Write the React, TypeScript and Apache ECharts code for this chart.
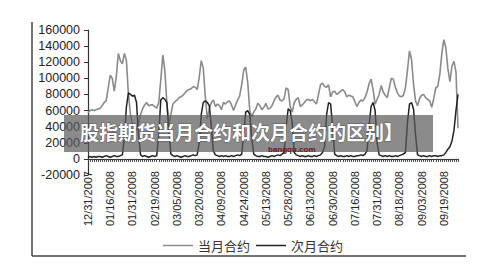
import React, { useEffect, useRef } from "react";
import * as echarts from "echarts";

const tickLabels = [
  "12/31/2007", "01/16/2008", "01/31/2008", "02/19/2008", "03/05/2008", "03/20/2008",
  "04/09/2008", "04/24/2008", "05/13/2008", "05/28/2008", "06/13/2008", "06/30/2008",
  "07/16/2008", "07/31/2008", "08/18/2008", "09/03/2008", "09/19/2008",
];

const seriesNames = ["当月合约", "次月合约"];

const current = [
  57000, 60000, 61000, 60000, 61000, 62000, 63000, 66000, 70000, 72000,
  88000, 104000, 100000, 84000, 102000, 131000, 122000, 118000, 131000, 122000,
  80000, 55000, 42000, 34000, 36000, 45000, 55000, 62000, 67000, 70000,
  66000, 67000, 67000, 65000, 63000, 70000, 98000, 129000, 110000, 70000,
  42000, 55000, 68000, 71000, 73000, 76000, 77000, 79000, 82000, 85000,
  86000, 87000, 90000, 89000, 86000, 101000, 122000, 113000, 78000, 50000,
  62000, 70000, 73000, 65000, 68000, 66000, 61000, 70000, 68000, 71000,
  72000, 67000, 60000, 67000, 73000, 78000, 92000, 110000, 114000, 95000,
  60000, 52000, 58000, 62000, 69000, 66000, 61000, 64000, 69000, 62000,
  63000, 66000, 72000, 77000, 79000, 73000, 72000, 75000, 88000, 86000,
  65000, 58000, 70000, 74000, 76000, 65000, 67000, 70000, 73000, 74000,
  72000, 74000, 71000, 68000, 80000, 92000, 94000, 90000, 89000, 92000,
  77000, 83000, 84000, 80000, 82000, 84000, 86000, 83000, 77000, 79000,
  78000, 77000, 71000, 65000, 70000, 73000, 72000, 76000, 83000, 93000,
  99000, 86000, 68000, 74000, 80000, 91000, 83000, 79000, 76000, 88000,
  100000, 99000, 89000, 82000, 78000, 77000, 79000, 88000, 110000, 134000,
  124000, 93000, 72000, 66000, 75000, 79000, 80000, 76000, 74000, 72000,
  64000, 75000, 88000, 90000, 105000, 131000, 148000, 138000, 112000, 96000,
  115000, 121000, 108000, 38000,
];

const next = [
  2000, 3000, 2000, 3000, 2000, 3000, 3000, 2000, 3000, 4000,
  3000, 2000, 3000, 4000, 3000, 3000, 4000, 5000,
  25000, 65000, 82000, 80000, 78000, 79000, 70000, 30000,
  5000, 3000, 4000, 3000, 2000, 3000, 4000, 3000, 4000,
  30000, 73000, 76000, 74000, 70000, 35000,
  6000, 4000, 3000, 4000, 3000, 2000, 3000, 4000, 3000, 3000, 4000, 5000, 4000, 5000,
  20000, 55000, 70000, 72000, 70000, 66000, 40000, 10000,
  5000, 4000, 3000, 4000, 3000, 4000, 3000, 3000, 4000, 3000, 4000, 5000, 4000, 6000,
  30000, 58000, 60000, 55000, 25000,
  6000, 4000, 3000, 3000, 4000, 3000, 3000, 2000, 3000, 4000, 3000, 4000, 5000, 4000, 6000,
  8000, 40000, 62000, 60000, 45000, 8000,
  5000, 4000, 3000, 4000, 3000, 3000, 4000, 3000, 3000, 4000, 3000, 4000, 5000, 8000,
  15000, 55000, 70000, 68000, 40000, 6000,
  4000, 3000, 4000, 3000, 3000, 4000, 3000, 4000, 3000, 3000, 4000, 4000, 5000, 4000, 6000,
  10000, 40000, 65000, 70000, 60000, 20000,
  5000, 4000, 3000, 4000, 3000, 4000, 3000, 3000, 4000, 3000, 4000, 5000, 6000,
  8000, 45000, 68000, 70000, 62000, 30000,
  5000, 4000, 3000, 4000, 3000, 3000, 4000, 3000, 4000, 4000, 3000, 4000,
  4000, 5000, 8000, 12000, 15000, 22000, 35000, 60000, 80000,
];

const overlayTitle = "股指期货当月合约和次月合约的区别】";
const overlayMark = "bangqu.com";

export default function App() {
  const ref = useRef<HTMLDivElement>(null);
  useEffect(() => {
    const chart = echarts.init(ref.current as HTMLDivElement, null, { renderer: "svg" });
    const cats = current.map((_, i) => String(i));
    const labelFont = "'Liberation Sans', Arial, sans-serif";
    chart.setOption({
      animation: false,
      backgroundColor: "#ffffff",
      grid: { left: 88, right: 42, top: 30, bottom: 93, containLabel: false },
      legend: {
        data: seriesNames,
        left: 158,
        top: 234,
        icon: "rect",
        itemWidth: 30,
        itemHeight: 1.5,
        itemGap: 6,
        textStyle: { fontSize: 13, color: "#333", fontFamily: "'Noto Sans CJK SC', sans-serif" },
      },
      xAxis: [
        {
          type: "category",
          data: cats,
          boundaryGap: false,
          axisLine: { onZero: true, lineStyle: { color: "#333", width: 1.2 } },
          axisTick: { show: true, interval: 0, length: 3, lineStyle: { color: "#444" } },
          axisLabel: { show: false },
          splitLine: { show: false },
        },
        {
          type: "category",
          data: cats,
          boundaryGap: false,
          position: "bottom",
          offset: -6,
          axisLine: { show: false, onZero: false },
          axisTick: { show: false },
          axisLabel: {
            interval: 10,
            rotate: 90,
            margin: 2,
            fontSize: 11,
            color: "#222",
            fontFamily: labelFont,
            formatter: (_v: string, idx: number) => (idx % 11 === 0 ? tickLabels[idx / 11] ?? "" : ""),
          },
          splitLine: { show: false },
        },
      ],
      yAxis: {
        type: "value",
        min: -20000,
        max: 160000,
        interval: 20000,
        axisLine: { show: true, lineStyle: { color: "#333", width: 1.2 } },
        axisTick: { show: true, length: 4, lineStyle: { color: "#333" } },
        axisLabel: {
          fontSize: 12.5,
          color: "#222",
          margin: 8,
          fontFamily: labelFont,
          formatter: (v: number) => String(v),
        },
        splitLine: { show: false },
      },
      series: [
        {
          name: seriesNames[0],
          type: "line",
          xAxisIndex: 0,
          data: current,
          showSymbol: false,
          color: "#8a8a8a",
          lineStyle: { color: "#8a8a8a", width: 1.6 },
        },
        {
          name: seriesNames[1],
          type: "line",
          xAxisIndex: 0,
          data: next,
          showSymbol: false,
          color: "#222222",
          lineStyle: { color: "#222222", width: 1.5 },
        },
      ],
      graphic: [
        { type: "line", z: 90, shape: { x1: 32, y1: 22, x2: 32, y2: 256 }, style: { stroke: "#444", lineWidth: 1.5 } },
        { type: "line", z: 90, shape: { x1: 32, y1: 256, x2: 466, y2: 256 }, style: { stroke: "#444", lineWidth: 1.5 } },
        { type: "rect", z: 100, shape: { x: 64, y: 115, width: 369, height: 37 }, style: { fill: "rgba(90,90,90,0.7)" } },
        {
          type: "text",
          z: 101,
          x: 268,
          y: 149,
          style: { text: overlayMark, fill: "#6e1414", fontSize: 8, fontWeight: "bold", fontFamily: "'Liberation Sans', sans-serif", verticalAlign: "middle" },
        },
        {
          type: "text",
          z: 102,
          x: 80,
          y: 131,
          style: {
            text: overlayTitle,
            fill: "#ffffff",
            fontSize: 19,
            fontWeight: "bold",
            fontFamily: "'Noto Sans CJK SC', sans-serif",
            verticalAlign: "middle",
            stroke: "rgba(40,40,40,0.5)",
            lineWidth: 1,
          },
        },
      ],
    });
    return () => chart.dispose();
  }, []);
  return (
    <div
      ref={ref}
      style={{ position: "absolute", left: 0, top: 0, width: 500, height: 268, background: "#fff" }}
    />
  );
}
